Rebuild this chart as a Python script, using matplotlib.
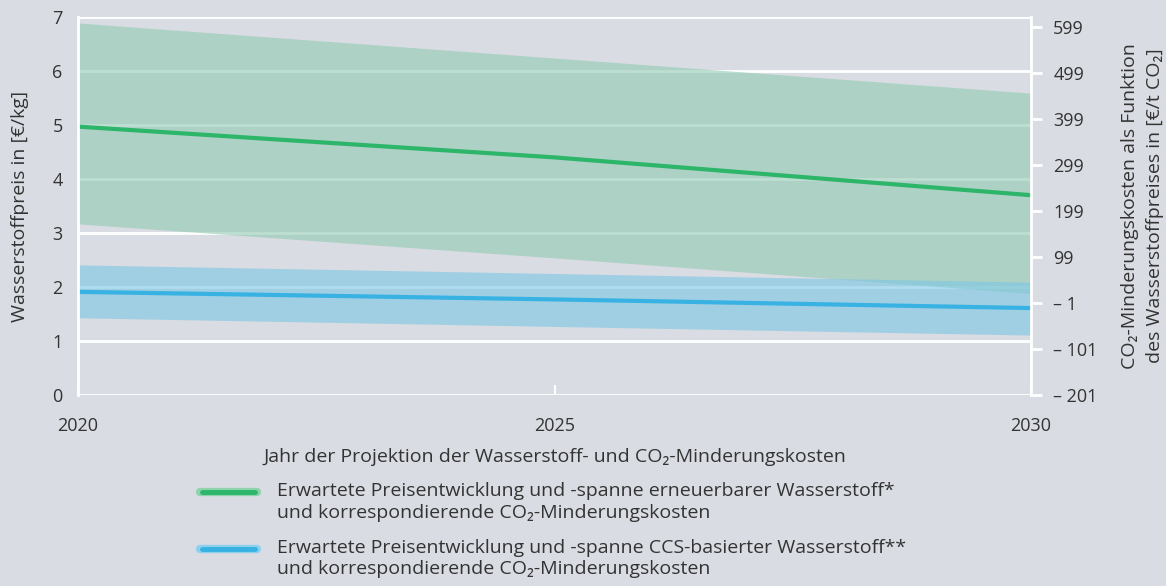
import matplotlib
matplotlib.use('Agg')
import matplotlib.pyplot as plt
from matplotlib.lines import Line2D

plt.rcParams['font.family'] = ['Open Sans', 'DejaVu Sans']

# Data
years = [2020, 2025, 2030]
green_mid = [4.97, 4.40, 3.70]
green_high = [6.89, 6.24, 5.59]
green_low = [3.17, 2.54, 1.88]
blue_mid = [1.91, 1.77, 1.61]
blue_high = [2.41, 2.25, 2.09]
blue_low = [1.43, 1.27, 1.11]

left_ticks = [0, 1, 2, 3, 4, 5, 6, 7]
right_ticks = [-201, -101, -1, 99, 199, 299, 399, 499, 599]
right_labels = ['\u2013 201', '\u2013 101', '\u2013 1', '99', '199', '299', '399', '499', '599']

bg = '#d9dce2'
txt = '#333333'
green = '#2db56a'
green_band = '#91cab3'
blue = '#38b1e3'
blue_band = '#7ac6e4'

legend_labels = [
    'Erwartete Preisentwicklung und -spanne erneuerbarer Wasserstoff*\nund korrespondierende CO\u2082-Minderungskosten',
    'Erwartete Preisentwicklung und -spanne CCS-basierter Wasserstoff**\nund korrespondierende CO\u2082-Minderungskosten',
]

W, H = 1166, 586
fig = plt.figure(figsize=(W / 100, H / 100), dpi=100, facecolor=bg)
ax = fig.add_axes([78 / W, 1 - 395 / H, (1031 - 78) / W, (395 - 17) / H])
ax.set_facecolor(bg)

ax.set_xlim(2020, 2030)
ax.set_ylim(0, 7)
ax.set_yticks(left_ticks)
ax.set_xticks(years)
for y in left_ticks:
    ax.axhline(y, color='white', lw=2, zorder=1)

ax.fill_between(years, green_low, green_high, color=green_band, alpha=0.6, lw=0, zorder=2)
ax.fill_between(years, blue_low, blue_high, color=blue_band, alpha=0.6, lw=0, zorder=2)
ax.plot(years, green_mid, color=green, lw=3, zorder=3, solid_capstyle='butt')
ax.plot(years, blue_mid, color=blue, lw=3, zorder=3, solid_capstyle='butt')

for s in ['top', 'bottom']:
    ax.spines[s].set_visible(False)
for s in ['left', 'right']:
    ax.spines[s].set_color('white')
    ax.spines[s].set_linewidth(2)
    ax.spines[s].set_zorder(4)

ax.tick_params(axis='y', length=0, labelsize=13, labelcolor=txt, pad=11)
ax.tick_params(axis='x', direction='in', length=7, width=1.5, color='white',
               labelsize=13, labelcolor=txt, pad=16)
ax.set_ylabel('Wasserstoffpreis in [\u20ac/kg]', fontsize=14, color=txt, labelpad=17)
ax.set_xlabel('Jahr der Projektion der Wasserstoff- und CO\u2082-Minderungskosten',
              fontsize=14, color=txt, labelpad=9)

ax2 = ax.twinx()
ax2.set_ylim(-201, -201 + 7 * 117.39)
ax2.set_yticks(right_ticks)
ax2.set_yticklabels(right_labels)
ax2.tick_params(axis='y', length=8, width=2, color='white', labelsize=13,
                labelcolor=txt, pad=8)
for s in ax2.spines.values():
    s.set_visible(False)
ax2.set_ylabel('CO\u2082-Minderungskosten als Funktion\ndes Wasserstoffpreises in [\u20ac/t CO\u2082]',
               fontsize=14, color=txt, labelpad=17, linespacing=1.45)

# legend drawn by hand so the key sits on the first text line
entries = [(legend_labels[0], green, '#8fd3ac', 492),
           (legend_labels[1], blue, '#8dd0ee', 549)]
for label, col, halo, ypx in entries:
    yf = 1 - ypx / H
    fig.add_artist(Line2D([200 / W, 257 / W], [yf, yf], color=halo, lw=6,
                          solid_capstyle='round', transform=fig.transFigure))
    fig.add_artist(Line2D([202 / W, 255 / W], [yf, yf], color=col, lw=3.5,
                          solid_capstyle='round', transform=fig.transFigure))
    fig.text(277 / W, 1 - (ypx - 10) / H, label, fontsize=14, color=txt,
             va='top', ha='left', linespacing=1.25)

fig.savefig('out.png', dpi=100, facecolor=bg)
